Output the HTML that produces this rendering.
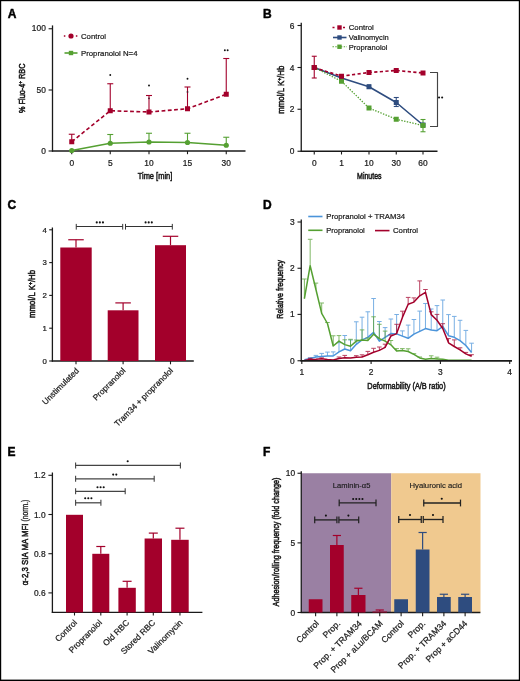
<!DOCTYPE html>
<html><head><meta charset="utf-8"><style>
html,body{margin:0;padding:0;background:#fff;}
svg{display:block;will-change:transform;}
text{font-family:"Liberation Sans", sans-serif;stroke:currentColor;stroke-width:0.22px;}
</style></head><body>
<svg width="520" height="681" viewBox="0 0 520 681">
<rect x="0" y="0" width="520" height="681" fill="#000"/>
<rect x="1.2" y="1.2" width="517.6" height="678.4" fill="#fff"/>
<text x="7.80" y="17.80" font-size="12" text-anchor="start" fill="#000" color="#000" font-weight="bold" style="stroke-width:0.45px">A</text>
<line x1="52.50" y1="25.40" x2="52.50" y2="151.60" stroke="#1a1a1a" stroke-width="1.3" stroke-linecap="butt"/>
<line x1="51.90" y1="151.00" x2="245.50" y2="151.00" stroke="#1a1a1a" stroke-width="1.3" stroke-linecap="butt"/>
<line x1="48.60" y1="28.75" x2="52.50" y2="28.75" stroke="#1a1a1a" stroke-width="1.1" stroke-linecap="butt"/>
<text x="45.80" y="31.47" font-size="8.4" text-anchor="end" fill="#1a1a1a" color="#1a1a1a" font-weight="normal">100</text>
<line x1="48.60" y1="90.00" x2="52.50" y2="90.00" stroke="#1a1a1a" stroke-width="1.1" stroke-linecap="butt"/>
<text x="45.80" y="92.72" font-size="8.4" text-anchor="end" fill="#1a1a1a" color="#1a1a1a" font-weight="normal">50</text>
<line x1="48.60" y1="151.00" x2="52.50" y2="151.00" stroke="#1a1a1a" stroke-width="1.1" stroke-linecap="butt"/>
<text x="45.80" y="153.72" font-size="8.4" text-anchor="end" fill="#1a1a1a" color="#1a1a1a" font-weight="normal">0</text>
<line x1="71.75" y1="151.00" x2="71.75" y2="154.20" stroke="#1a1a1a" stroke-width="1.1" stroke-linecap="butt"/>
<text x="71.75" y="165.72" font-size="8.4" text-anchor="middle" fill="#1a1a1a" color="#1a1a1a" font-weight="normal">0</text>
<line x1="110.25" y1="151.00" x2="110.25" y2="154.20" stroke="#1a1a1a" stroke-width="1.1" stroke-linecap="butt"/>
<text x="110.25" y="165.72" font-size="8.4" text-anchor="middle" fill="#1a1a1a" color="#1a1a1a" font-weight="normal">5</text>
<line x1="149.00" y1="151.00" x2="149.00" y2="154.20" stroke="#1a1a1a" stroke-width="1.1" stroke-linecap="butt"/>
<text x="149.00" y="165.72" font-size="8.4" text-anchor="middle" fill="#1a1a1a" color="#1a1a1a" font-weight="normal">10</text>
<line x1="187.50" y1="151.00" x2="187.50" y2="154.20" stroke="#1a1a1a" stroke-width="1.1" stroke-linecap="butt"/>
<text x="187.50" y="165.72" font-size="8.4" text-anchor="middle" fill="#1a1a1a" color="#1a1a1a" font-weight="normal">15</text>
<line x1="226.25" y1="151.00" x2="226.25" y2="154.20" stroke="#1a1a1a" stroke-width="1.1" stroke-linecap="butt"/>
<text x="226.25" y="165.72" font-size="8.4" text-anchor="middle" fill="#1a1a1a" color="#1a1a1a" font-weight="normal">30</text>
<text x="155.00" y="179.30" font-size="9.2" text-anchor="middle" fill="#1a1a1a" color="#1a1a1a" font-weight="normal" textLength="34.6" lengthAdjust="spacingAndGlyphs" style="stroke-width:0.55px">Time [min]</text>
<text x="25.20" y="88.20" font-size="9.3" text-anchor="middle" fill="#1a1a1a" color="#1a1a1a" font-weight="normal" textLength="49.4" lengthAdjust="spacingAndGlyphs" transform="rotate(-90 25.20 88.20)" style="stroke-width:0.55px">% Fluo-4<tspan font-size="6" dy="-3.2">+</tspan><tspan dy="3.2"> RBC</tspan></text>
<line x1="71.75" y1="141.75" x2="71.75" y2="134.25" stroke="#a3002b" stroke-width="1.1" stroke-linecap="butt"/>
<line x1="68.75" y1="134.25" x2="74.75" y2="134.25" stroke="#a3002b" stroke-width="1.1" stroke-linecap="butt"/>
<line x1="110.25" y1="110.75" x2="110.25" y2="83.75" stroke="#a3002b" stroke-width="1.1" stroke-linecap="butt"/>
<line x1="107.25" y1="83.75" x2="113.25" y2="83.75" stroke="#a3002b" stroke-width="1.1" stroke-linecap="butt"/>
<line x1="149.00" y1="112.00" x2="149.00" y2="95.50" stroke="#a3002b" stroke-width="1.1" stroke-linecap="butt"/>
<line x1="146.00" y1="95.50" x2="152.00" y2="95.50" stroke="#a3002b" stroke-width="1.1" stroke-linecap="butt"/>
<line x1="187.50" y1="108.75" x2="187.50" y2="87.00" stroke="#a3002b" stroke-width="1.1" stroke-linecap="butt"/>
<line x1="184.50" y1="87.00" x2="190.50" y2="87.00" stroke="#a3002b" stroke-width="1.1" stroke-linecap="butt"/>
<line x1="226.25" y1="94.25" x2="226.25" y2="58.50" stroke="#a3002b" stroke-width="1.1" stroke-linecap="butt"/>
<line x1="223.25" y1="58.50" x2="229.25" y2="58.50" stroke="#a3002b" stroke-width="1.1" stroke-linecap="butt"/>
<polyline points="71.75,141.75 110.25,110.75 149.00,112.00 187.50,108.75 226.25,94.25" fill="none" stroke="#a3002b" stroke-width="1.6" stroke-linejoin="round" stroke-dasharray="3.8,2.5"/>
<rect x="69.25" y="139.25" width="5.00" height="5.00" fill="#a3002b"/>
<rect x="107.75" y="108.25" width="5.00" height="5.00" fill="#a3002b"/>
<rect x="146.50" y="109.50" width="5.00" height="5.00" fill="#a3002b"/>
<rect x="185.00" y="106.25" width="5.00" height="5.00" fill="#a3002b"/>
<rect x="223.75" y="91.75" width="5.00" height="5.00" fill="#a3002b"/>
<circle cx="149.00" cy="98.30" r="0.9" fill="#4a2030"/>
<circle cx="187.50" cy="91.90" r="0.9" fill="#4a2030"/>
<line x1="110.25" y1="143.25" x2="110.25" y2="134.50" stroke="#55a032" stroke-width="1.1" stroke-linecap="butt"/>
<line x1="107.25" y1="134.50" x2="113.25" y2="134.50" stroke="#55a032" stroke-width="1.1" stroke-linecap="butt"/>
<line x1="149.00" y1="142.00" x2="149.00" y2="133.25" stroke="#55a032" stroke-width="1.1" stroke-linecap="butt"/>
<line x1="146.00" y1="133.25" x2="152.00" y2="133.25" stroke="#55a032" stroke-width="1.1" stroke-linecap="butt"/>
<line x1="187.50" y1="142.50" x2="187.50" y2="133.25" stroke="#55a032" stroke-width="1.1" stroke-linecap="butt"/>
<line x1="184.50" y1="133.25" x2="190.50" y2="133.25" stroke="#55a032" stroke-width="1.1" stroke-linecap="butt"/>
<line x1="226.25" y1="145.25" x2="226.25" y2="137.25" stroke="#55a032" stroke-width="1.1" stroke-linecap="butt"/>
<line x1="223.25" y1="137.25" x2="229.25" y2="137.25" stroke="#55a032" stroke-width="1.1" stroke-linecap="butt"/>
<polyline points="71.75,150.50 110.25,143.25 149.00,142.00 187.50,142.50 226.25,145.25" fill="none" stroke="#55a032" stroke-width="1.6" stroke-linejoin="round"/>
<circle cx="71.75" cy="150.50" r="2.6" fill="#55a032"/>
<circle cx="110.25" cy="143.25" r="2.6" fill="#55a032"/>
<circle cx="149.00" cy="142.00" r="2.6" fill="#55a032"/>
<circle cx="187.50" cy="142.50" r="2.6" fill="#55a032"/>
<circle cx="226.25" cy="145.25" r="2.6" fill="#55a032"/>
<circle cx="110.25" cy="75.00" r="0.95" fill="#111"/>
<circle cx="149.00" cy="85.50" r="0.95" fill="#111"/>
<circle cx="187.50" cy="78.75" r="0.95" fill="#111"/>
<circle cx="224.85" cy="50.20" r="0.95" fill="#111"/>
<circle cx="227.65" cy="50.20" r="0.95" fill="#111"/>
<line x1="63.85" y1="36.00" x2="77.35" y2="36.00" stroke="#a3002b" stroke-width="1.6" stroke-linecap="butt" stroke-dasharray="1.5,10.5"/>
<circle cx="71.00" cy="36.00" r="2.6" fill="#a3002b"/>
<text x="81.00" y="38.92" font-size="8.1" text-anchor="start" fill="#1a1a1a" color="#1a1a1a" font-weight="normal" textLength="25" lengthAdjust="spacingAndGlyphs">Control</text>
<line x1="64.50" y1="53.00" x2="77.50" y2="53.00" stroke="#55a032" stroke-width="1.6" stroke-linecap="butt"/>
<rect x="68.80" y="50.80" width="4.40" height="4.40" fill="#55a032"/>
<text x="81.00" y="55.92" font-size="8.1" text-anchor="start" fill="#1a1a1a" color="#1a1a1a" font-weight="normal" textLength="56.5" lengthAdjust="spacingAndGlyphs">Propranolol N=4</text>
<text x="263.00" y="18.00" font-size="12" text-anchor="start" fill="#000" color="#000" font-weight="bold" style="stroke-width:0.45px">B</text>
<line x1="301.25" y1="22.70" x2="301.25" y2="151.85" stroke="#1a1a1a" stroke-width="1.3" stroke-linecap="butt"/>
<line x1="300.65" y1="151.25" x2="437.50" y2="151.25" stroke="#1a1a1a" stroke-width="1.3" stroke-linecap="butt"/>
<line x1="297.50" y1="25.50" x2="301.25" y2="25.50" stroke="#1a1a1a" stroke-width="1.1" stroke-linecap="butt"/>
<text x="294.30" y="28.52" font-size="8.4" text-anchor="end" fill="#1a1a1a" color="#1a1a1a" font-weight="normal">6</text>
<line x1="297.50" y1="67.50" x2="301.25" y2="67.50" stroke="#1a1a1a" stroke-width="1.1" stroke-linecap="butt"/>
<text x="294.30" y="70.52" font-size="8.4" text-anchor="end" fill="#1a1a1a" color="#1a1a1a" font-weight="normal">4</text>
<line x1="297.50" y1="109.25" x2="301.25" y2="109.25" stroke="#1a1a1a" stroke-width="1.1" stroke-linecap="butt"/>
<text x="294.30" y="112.27" font-size="8.4" text-anchor="end" fill="#1a1a1a" color="#1a1a1a" font-weight="normal">2</text>
<line x1="297.50" y1="151.25" x2="301.25" y2="151.25" stroke="#1a1a1a" stroke-width="1.1" stroke-linecap="butt"/>
<text x="294.30" y="154.27" font-size="8.4" text-anchor="end" fill="#1a1a1a" color="#1a1a1a" font-weight="normal">0</text>
<line x1="314.25" y1="151.25" x2="314.25" y2="154.50" stroke="#1a1a1a" stroke-width="1.1" stroke-linecap="butt"/>
<text x="314.25" y="165.52" font-size="8.4" text-anchor="middle" fill="#1a1a1a" color="#1a1a1a" font-weight="normal">0</text>
<line x1="341.50" y1="151.25" x2="341.50" y2="154.50" stroke="#1a1a1a" stroke-width="1.1" stroke-linecap="butt"/>
<text x="341.50" y="165.52" font-size="8.4" text-anchor="middle" fill="#1a1a1a" color="#1a1a1a" font-weight="normal">1</text>
<line x1="369.00" y1="151.25" x2="369.00" y2="154.50" stroke="#1a1a1a" stroke-width="1.1" stroke-linecap="butt"/>
<text x="369.00" y="165.52" font-size="8.4" text-anchor="middle" fill="#1a1a1a" color="#1a1a1a" font-weight="normal">10</text>
<line x1="396.25" y1="151.25" x2="396.25" y2="154.50" stroke="#1a1a1a" stroke-width="1.1" stroke-linecap="butt"/>
<text x="396.25" y="165.52" font-size="8.4" text-anchor="middle" fill="#1a1a1a" color="#1a1a1a" font-weight="normal">30</text>
<line x1="423.00" y1="151.25" x2="423.00" y2="154.50" stroke="#1a1a1a" stroke-width="1.1" stroke-linecap="butt"/>
<text x="423.00" y="165.52" font-size="8.4" text-anchor="middle" fill="#1a1a1a" color="#1a1a1a" font-weight="normal">60</text>
<text x="369.30" y="179.20" font-size="9.2" text-anchor="middle" fill="#1a1a1a" color="#1a1a1a" font-weight="normal" textLength="24.4" lengthAdjust="spacingAndGlyphs" style="stroke-width:0.55px">Minutes</text>
<text x="283.90" y="89.70" font-size="9.4" text-anchor="middle" fill="#1a1a1a" color="#1a1a1a" font-weight="normal" textLength="48" lengthAdjust="spacingAndGlyphs" transform="rotate(-90 283.90 89.70)" style="stroke-width:0.55px">mmol/L K<tspan font-size="6" dy="-3">+</tspan><tspan dy="3">/Hb</tspan></text>
<line x1="314.25" y1="67.50" x2="314.25" y2="56.25" stroke="#a3002b" stroke-width="1.1" stroke-linecap="butt"/>
<line x1="311.75" y1="56.25" x2="316.75" y2="56.25" stroke="#a3002b" stroke-width="1.1" stroke-linecap="butt"/>
<line x1="314.25" y1="67.50" x2="314.25" y2="78.00" stroke="#a3002b" stroke-width="1.1" stroke-linecap="butt"/>
<line x1="311.75" y1="78.00" x2="316.75" y2="78.00" stroke="#a3002b" stroke-width="1.1" stroke-linecap="butt"/>
<line x1="396.25" y1="102.50" x2="396.25" y2="97.50" stroke="#2e4c7f" stroke-width="1.1" stroke-linecap="butt"/>
<line x1="393.75" y1="97.50" x2="398.75" y2="97.50" stroke="#2e4c7f" stroke-width="1.1" stroke-linecap="butt"/>
<line x1="396.25" y1="102.50" x2="396.25" y2="106.50" stroke="#2e4c7f" stroke-width="1.1" stroke-linecap="butt"/>
<line x1="393.75" y1="106.50" x2="398.75" y2="106.50" stroke="#2e4c7f" stroke-width="1.1" stroke-linecap="butt"/>
<line x1="369.00" y1="86.75" x2="369.00" y2="85.00" stroke="#2e4c7f" stroke-width="1.0" stroke-linecap="butt"/>
<line x1="367.00" y1="85.00" x2="371.00" y2="85.00" stroke="#2e4c7f" stroke-width="1.0" stroke-linecap="butt"/>
<line x1="369.00" y1="86.75" x2="369.00" y2="88.50" stroke="#2e4c7f" stroke-width="1.0" stroke-linecap="butt"/>
<line x1="367.00" y1="88.50" x2="371.00" y2="88.50" stroke="#2e4c7f" stroke-width="1.0" stroke-linecap="butt"/>
<line x1="423.00" y1="125.50" x2="423.00" y2="119.50" stroke="#55a032" stroke-width="1.1" stroke-linecap="butt"/>
<line x1="420.50" y1="119.50" x2="425.50" y2="119.50" stroke="#55a032" stroke-width="1.1" stroke-linecap="butt"/>
<line x1="423.00" y1="125.50" x2="423.00" y2="131.75" stroke="#55a032" stroke-width="1.1" stroke-linecap="butt"/>
<line x1="420.50" y1="131.75" x2="425.50" y2="131.75" stroke="#55a032" stroke-width="1.1" stroke-linecap="butt"/>
<polyline points="314.25,67.50 341.50,78.00 369.00,86.75 396.25,102.50 423.00,125.00" fill="none" stroke="#2e4c7f" stroke-width="1.6" stroke-linejoin="round"/>
<rect x="311.75" y="65.00" width="5.00" height="5.00" fill="#2e4c7f"/>
<rect x="339.00" y="75.50" width="5.00" height="5.00" fill="#2e4c7f"/>
<rect x="366.50" y="84.25" width="5.00" height="5.00" fill="#2e4c7f"/>
<rect x="393.75" y="100.00" width="5.00" height="5.00" fill="#2e4c7f"/>
<rect x="420.50" y="122.50" width="5.00" height="5.00" fill="#2e4c7f"/>
<polyline points="314.25,67.50 341.50,81.25 369.00,108.00 396.25,119.25 423.00,125.50" fill="none" stroke="#55a032" stroke-width="1.3" stroke-linejoin="round" stroke-dasharray="1.4,1.4"/>
<rect x="311.75" y="65.00" width="5.00" height="5.00" fill="#55a032"/>
<rect x="339.00" y="78.75" width="5.00" height="5.00" fill="#55a032"/>
<rect x="366.50" y="105.50" width="5.00" height="5.00" fill="#55a032"/>
<rect x="393.75" y="116.75" width="5.00" height="5.00" fill="#55a032"/>
<rect x="420.50" y="123.00" width="5.00" height="5.00" fill="#55a032"/>
<polyline points="314.25,67.50 341.50,76.25 369.00,72.50 396.25,70.50 423.00,73.00" fill="none" stroke="#a3002b" stroke-width="1.6" stroke-linejoin="round" stroke-dasharray="3.2,2.4"/>
<rect x="311.75" y="65.00" width="5.00" height="5.00" fill="#a3002b"/>
<rect x="339.00" y="73.75" width="5.00" height="5.00" fill="#a3002b"/>
<rect x="366.50" y="70.00" width="5.00" height="5.00" fill="#a3002b"/>
<rect x="393.75" y="68.00" width="5.00" height="5.00" fill="#a3002b"/>
<rect x="420.50" y="70.50" width="5.00" height="5.00" fill="#a3002b"/>
<line x1="332.50" y1="27.50" x2="347.00" y2="27.50" stroke="#a3002b" stroke-width="1.6" stroke-linecap="butt" stroke-dasharray="2,8.5"/>
<rect x="337.30" y="25.30" width="4.40" height="4.40" fill="#a3002b"/>
<text x="348.75" y="30.42" font-size="8.1" text-anchor="start" fill="#1a1a1a" color="#1a1a1a" font-weight="normal" textLength="25" lengthAdjust="spacingAndGlyphs">Control</text>
<line x1="333.00" y1="37.50" x2="346.50" y2="37.50" stroke="#2e4c7f" stroke-width="1.6" stroke-linecap="butt"/>
<rect x="337.30" y="35.30" width="4.40" height="4.40" fill="#2e4c7f"/>
<text x="348.75" y="40.42" font-size="8.1" text-anchor="start" fill="#1a1a1a" color="#1a1a1a" font-weight="normal" textLength="40" lengthAdjust="spacingAndGlyphs">Valinomycin</text>
<line x1="332.50" y1="46.75" x2="347.00" y2="46.75" stroke="#55a032" stroke-width="1.2" stroke-linecap="butt" stroke-dasharray="1.4,1.4"/>
<rect x="337.30" y="44.55" width="4.40" height="4.40" fill="#55a032"/>
<text x="348.75" y="49.67" font-size="8.1" text-anchor="start" fill="#1a1a1a" color="#1a1a1a" font-weight="normal" textLength="38.75" lengthAdjust="spacingAndGlyphs">Propranolol</text>
<polyline points="430.00,72.50 437.50,72.50 437.50,126.50 430.00,126.50" fill="none" stroke="#444" stroke-width="1.15" stroke-linejoin="round"/>
<circle cx="439.05" cy="97.50" r="1.05" fill="#111"/>
<circle cx="442.15" cy="97.50" r="1.05" fill="#111"/>
<text x="7.50" y="209.25" font-size="12" text-anchor="start" fill="#000" color="#000" font-weight="bold" style="stroke-width:0.45px">C</text>
<line x1="52.40" y1="227.50" x2="52.40" y2="361.60" stroke="#1a1a1a" stroke-width="1.3" stroke-linecap="butt"/>
<line x1="51.80" y1="361.00" x2="193.80" y2="361.00" stroke="#1a1a1a" stroke-width="1.3" stroke-linecap="butt"/>
<line x1="49.20" y1="361.00" x2="52.40" y2="361.00" stroke="#1a1a1a" stroke-width="1.1" stroke-linecap="butt"/>
<text x="46.90" y="363.81" font-size="7.8" text-anchor="end" fill="#1a1a1a" color="#1a1a1a" font-weight="normal">0</text>
<line x1="49.20" y1="328.20" x2="52.40" y2="328.20" stroke="#1a1a1a" stroke-width="1.1" stroke-linecap="butt"/>
<text x="46.90" y="331.01" font-size="7.8" text-anchor="end" fill="#1a1a1a" color="#1a1a1a" font-weight="normal">1</text>
<line x1="49.20" y1="295.40" x2="52.40" y2="295.40" stroke="#1a1a1a" stroke-width="1.1" stroke-linecap="butt"/>
<text x="46.90" y="298.21" font-size="7.8" text-anchor="end" fill="#1a1a1a" color="#1a1a1a" font-weight="normal">2</text>
<line x1="49.20" y1="262.60" x2="52.40" y2="262.60" stroke="#1a1a1a" stroke-width="1.1" stroke-linecap="butt"/>
<text x="46.90" y="265.41" font-size="7.8" text-anchor="end" fill="#1a1a1a" color="#1a1a1a" font-weight="normal">3</text>
<line x1="49.20" y1="229.80" x2="52.40" y2="229.80" stroke="#1a1a1a" stroke-width="1.1" stroke-linecap="butt"/>
<text x="46.90" y="232.61" font-size="7.8" text-anchor="end" fill="#1a1a1a" color="#1a1a1a" font-weight="normal">4</text>
<text x="35.20" y="293.90" font-size="9.1" text-anchor="middle" fill="#1a1a1a" color="#1a1a1a" font-weight="normal" textLength="48.2" lengthAdjust="spacingAndGlyphs" transform="rotate(-90 35.20 293.90)" style="stroke-width:0.55px">mmol/L K<tspan font-size="5.8" dy="-2.9">+</tspan><tspan dy="2.9">/Hb</tspan></text>
<line x1="76.00" y1="247.50" x2="76.00" y2="239.75" stroke="#a3002b" stroke-width="1.2" stroke-linecap="butt"/>
<line x1="68.25" y1="239.75" x2="83.75" y2="239.75" stroke="#a3002b" stroke-width="1.2" stroke-linecap="butt"/>
<rect x="60.30" y="247.50" width="31.40" height="113.50" fill="#a3002b"/>
<line x1="123.10" y1="310.30" x2="123.10" y2="302.90" stroke="#a3002b" stroke-width="1.2" stroke-linecap="butt"/>
<line x1="115.35" y1="302.90" x2="130.85" y2="302.90" stroke="#a3002b" stroke-width="1.2" stroke-linecap="butt"/>
<rect x="107.70" y="310.30" width="30.80" height="50.70" fill="#a3002b"/>
<line x1="170.50" y1="245.20" x2="170.50" y2="236.30" stroke="#a3002b" stroke-width="1.2" stroke-linecap="butt"/>
<line x1="162.75" y1="236.30" x2="178.25" y2="236.30" stroke="#a3002b" stroke-width="1.2" stroke-linecap="butt"/>
<rect x="155.00" y="245.20" width="31.00" height="115.80" fill="#a3002b"/>
<line x1="76.00" y1="361.00" x2="76.00" y2="364.30" stroke="#1a1a1a" stroke-width="1.1" stroke-linecap="butt"/>
<line x1="123.10" y1="361.00" x2="123.10" y2="364.30" stroke="#1a1a1a" stroke-width="1.1" stroke-linecap="butt"/>
<line x1="170.50" y1="361.00" x2="170.50" y2="364.30" stroke="#1a1a1a" stroke-width="1.1" stroke-linecap="butt"/>
<line x1="76.25" y1="226.50" x2="122.70" y2="226.50" stroke="#333" stroke-width="1.1" stroke-linecap="butt"/>
<line x1="125.50" y1="226.50" x2="172.30" y2="226.50" stroke="#333" stroke-width="1.1" stroke-linecap="butt"/>
<line x1="76.25" y1="223.90" x2="76.25" y2="229.60" stroke="#333" stroke-width="1.0" stroke-linecap="butt"/>
<line x1="122.70" y1="223.90" x2="122.70" y2="229.60" stroke="#333" stroke-width="1.0" stroke-linecap="butt"/>
<line x1="125.50" y1="223.90" x2="125.50" y2="229.60" stroke="#333" stroke-width="1.0" stroke-linecap="butt"/>
<line x1="172.30" y1="223.90" x2="172.30" y2="229.60" stroke="#333" stroke-width="1.0" stroke-linecap="butt"/>
<circle cx="96.75" cy="222.40" r="1.05" fill="#111"/>
<circle cx="99.85" cy="222.40" r="1.05" fill="#111"/>
<circle cx="102.95" cy="222.40" r="1.05" fill="#111"/>
<circle cx="145.60" cy="222.40" r="1.05" fill="#111"/>
<circle cx="148.70" cy="222.40" r="1.05" fill="#111"/>
<circle cx="151.80" cy="222.40" r="1.05" fill="#111"/>
<text x="79.50" y="371.20" font-size="8.25" text-anchor="end" fill="#1a1a1a" color="#1a1a1a" font-weight="normal" transform="rotate(-45 79.50 371.20)">Unstimulated</text>
<text x="126.00" y="371.20" font-size="8.25" text-anchor="end" fill="#1a1a1a" color="#1a1a1a" font-weight="normal" transform="rotate(-45 126.00 371.20)">Propranolol</text>
<text x="173.50" y="371.20" font-size="8.25" text-anchor="end" fill="#1a1a1a" color="#1a1a1a" font-weight="normal" transform="rotate(-45 173.50 371.20)">Tram34 + propranolol</text>
<text x="263.00" y="208.75" font-size="12" text-anchor="start" fill="#000" color="#000" font-weight="bold" style="stroke-width:0.45px">D</text>
<line x1="301.25" y1="219.50" x2="301.25" y2="361.35" stroke="#1a1a1a" stroke-width="1.3" stroke-linecap="butt"/>
<line x1="300.65" y1="360.75" x2="512.00" y2="360.75" stroke="#1a1a1a" stroke-width="1.3" stroke-linecap="butt"/>
<line x1="297.50" y1="222.00" x2="301.25" y2="222.00" stroke="#1a1a1a" stroke-width="1.1" stroke-linecap="butt"/>
<text x="294.60" y="225.02" font-size="8.4" text-anchor="end" fill="#1a1a1a" color="#1a1a1a" font-weight="normal">3</text>
<line x1="297.50" y1="268.25" x2="301.25" y2="268.25" stroke="#1a1a1a" stroke-width="1.1" stroke-linecap="butt"/>
<text x="294.60" y="271.27" font-size="8.4" text-anchor="end" fill="#1a1a1a" color="#1a1a1a" font-weight="normal">2</text>
<line x1="297.50" y1="314.40" x2="301.25" y2="314.40" stroke="#1a1a1a" stroke-width="1.1" stroke-linecap="butt"/>
<text x="294.60" y="317.42" font-size="8.4" text-anchor="end" fill="#1a1a1a" color="#1a1a1a" font-weight="normal">1</text>
<line x1="297.50" y1="360.75" x2="301.25" y2="360.75" stroke="#1a1a1a" stroke-width="1.1" stroke-linecap="butt"/>
<text x="294.60" y="363.77" font-size="8.4" text-anchor="end" fill="#1a1a1a" color="#1a1a1a" font-weight="normal">0</text>
<line x1="301.80" y1="360.75" x2="301.80" y2="364.00" stroke="#1a1a1a" stroke-width="1.1" stroke-linecap="butt"/>
<text x="301.80" y="374.92" font-size="8.4" text-anchor="middle" fill="#1a1a1a" color="#1a1a1a" font-weight="normal">1</text>
<line x1="371.10" y1="360.75" x2="371.10" y2="364.00" stroke="#1a1a1a" stroke-width="1.1" stroke-linecap="butt"/>
<text x="371.10" y="374.92" font-size="8.4" text-anchor="middle" fill="#1a1a1a" color="#1a1a1a" font-weight="normal">2</text>
<line x1="440.40" y1="360.75" x2="440.40" y2="364.00" stroke="#1a1a1a" stroke-width="1.1" stroke-linecap="butt"/>
<text x="440.40" y="374.92" font-size="8.4" text-anchor="middle" fill="#1a1a1a" color="#1a1a1a" font-weight="normal">3</text>
<line x1="509.70" y1="360.75" x2="509.70" y2="364.00" stroke="#1a1a1a" stroke-width="1.1" stroke-linecap="butt"/>
<text x="509.70" y="374.92" font-size="8.4" text-anchor="middle" fill="#1a1a1a" color="#1a1a1a" font-weight="normal">4</text>
<text x="406.50" y="389.20" font-size="9.6" text-anchor="middle" fill="#1a1a1a" color="#1a1a1a" font-weight="normal" textLength="78.3" lengthAdjust="spacingAndGlyphs" style="stroke-width:0.55px">Deformability (A/B ratio)</text>
<text x="283.30" y="289.30" font-size="9.9" text-anchor="middle" fill="#1a1a1a" color="#1a1a1a" font-weight="normal" textLength="58.8" lengthAdjust="spacingAndGlyphs" transform="rotate(-90 283.30 289.30)" style="stroke-width:0.55px">Relative frequency</text>
<line x1="308.25" y1="216.50" x2="322.50" y2="216.50" stroke="#4b94da" stroke-width="1.6" stroke-linecap="butt"/>
<text x="326.25" y="219.27" font-size="8.1" text-anchor="start" fill="#1a1a1a" color="#1a1a1a" font-weight="normal" textLength="78.75" lengthAdjust="spacingAndGlyphs">Propranolol + TRAM34</text>
<line x1="308.25" y1="230.30" x2="322.50" y2="230.30" stroke="#55a032" stroke-width="1.6" stroke-linecap="butt"/>
<text x="326.25" y="233.02" font-size="8.1" text-anchor="start" fill="#1a1a1a" color="#1a1a1a" font-weight="normal" textLength="38.5" lengthAdjust="spacingAndGlyphs">Propranolol</text>
<line x1="375.00" y1="230.60" x2="389.50" y2="230.60" stroke="#a3002b" stroke-width="1.6" stroke-linecap="butt"/>
<text x="393.00" y="233.32" font-size="8.1" text-anchor="start" fill="#1a1a1a" color="#1a1a1a" font-weight="normal" textLength="25" lengthAdjust="spacingAndGlyphs">Control</text>
<g opacity="0.75">
<line x1="310.16" y1="358.60" x2="310.16" y2="357.70" stroke="#4b94da" stroke-width="1.0" stroke-linecap="butt"/>
<line x1="307.86" y1="357.70" x2="312.46" y2="357.70" stroke="#4b94da" stroke-width="1.0" stroke-linecap="butt"/>
</g>
<g opacity="0.75">
<line x1="315.93" y1="357.10" x2="315.93" y2="355.40" stroke="#4b94da" stroke-width="1.0" stroke-linecap="butt"/>
<line x1="313.63" y1="355.40" x2="318.23" y2="355.40" stroke="#4b94da" stroke-width="1.0" stroke-linecap="butt"/>
</g>
<g opacity="0.75">
<line x1="321.69" y1="356.50" x2="321.69" y2="353.40" stroke="#4b94da" stroke-width="1.0" stroke-linecap="butt"/>
<line x1="319.39" y1="353.40" x2="324.00" y2="353.40" stroke="#4b94da" stroke-width="1.0" stroke-linecap="butt"/>
</g>
<g opacity="0.75">
<line x1="327.46" y1="356.00" x2="327.46" y2="352.10" stroke="#4b94da" stroke-width="1.0" stroke-linecap="butt"/>
<line x1="325.16" y1="352.10" x2="329.76" y2="352.10" stroke="#4b94da" stroke-width="1.0" stroke-linecap="butt"/>
</g>
<g opacity="0.75">
<line x1="333.22" y1="356.00" x2="333.22" y2="351.90" stroke="#4b94da" stroke-width="1.0" stroke-linecap="butt"/>
<line x1="330.92" y1="351.90" x2="335.52" y2="351.90" stroke="#4b94da" stroke-width="1.0" stroke-linecap="butt"/>
</g>
<g opacity="0.75">
<line x1="338.99" y1="351.90" x2="338.99" y2="342.70" stroke="#4b94da" stroke-width="1.0" stroke-linecap="butt"/>
<line x1="336.69" y1="342.70" x2="341.29" y2="342.70" stroke="#4b94da" stroke-width="1.0" stroke-linecap="butt"/>
</g>
<g opacity="0.75">
<line x1="344.75" y1="349.00" x2="344.75" y2="335.50" stroke="#4b94da" stroke-width="1.0" stroke-linecap="butt"/>
<line x1="342.45" y1="335.50" x2="347.06" y2="335.50" stroke="#4b94da" stroke-width="1.0" stroke-linecap="butt"/>
</g>
<g opacity="0.75">
<line x1="350.52" y1="350.80" x2="350.52" y2="340.00" stroke="#4b94da" stroke-width="1.0" stroke-linecap="butt"/>
<line x1="348.22" y1="340.00" x2="352.82" y2="340.00" stroke="#4b94da" stroke-width="1.0" stroke-linecap="butt"/>
</g>
<g opacity="0.75">
<line x1="356.28" y1="344.30" x2="356.28" y2="321.80" stroke="#4b94da" stroke-width="1.0" stroke-linecap="butt"/>
<line x1="353.98" y1="321.80" x2="358.58" y2="321.80" stroke="#4b94da" stroke-width="1.0" stroke-linecap="butt"/>
</g>
<g opacity="0.75">
<line x1="362.05" y1="339.90" x2="362.05" y2="317.20" stroke="#4b94da" stroke-width="1.0" stroke-linecap="butt"/>
<line x1="359.75" y1="317.20" x2="364.35" y2="317.20" stroke="#4b94da" stroke-width="1.0" stroke-linecap="butt"/>
</g>
<g opacity="0.75">
<line x1="367.81" y1="337.40" x2="367.81" y2="311.80" stroke="#4b94da" stroke-width="1.0" stroke-linecap="butt"/>
<line x1="365.51" y1="311.80" x2="370.12" y2="311.80" stroke="#4b94da" stroke-width="1.0" stroke-linecap="butt"/>
</g>
<g opacity="0.75">
<line x1="373.58" y1="332.40" x2="373.58" y2="298.50" stroke="#4b94da" stroke-width="1.0" stroke-linecap="butt"/>
<line x1="371.28" y1="298.50" x2="375.88" y2="298.50" stroke="#4b94da" stroke-width="1.0" stroke-linecap="butt"/>
</g>
<g opacity="0.75">
<line x1="379.34" y1="341.10" x2="379.34" y2="321.50" stroke="#4b94da" stroke-width="1.0" stroke-linecap="butt"/>
<line x1="377.04" y1="321.50" x2="381.64" y2="321.50" stroke="#4b94da" stroke-width="1.0" stroke-linecap="butt"/>
</g>
<g opacity="0.75">
<line x1="385.11" y1="337.40" x2="385.11" y2="327.60" stroke="#4b94da" stroke-width="1.0" stroke-linecap="butt"/>
<line x1="382.81" y1="327.60" x2="387.41" y2="327.60" stroke="#4b94da" stroke-width="1.0" stroke-linecap="butt"/>
</g>
<g opacity="0.75">
<line x1="390.88" y1="333.60" x2="390.88" y2="319.00" stroke="#4b94da" stroke-width="1.0" stroke-linecap="butt"/>
<line x1="388.57" y1="319.00" x2="393.18" y2="319.00" stroke="#4b94da" stroke-width="1.0" stroke-linecap="butt"/>
</g>
<g opacity="0.75">
<line x1="396.64" y1="333.90" x2="396.64" y2="314.50" stroke="#4b94da" stroke-width="1.0" stroke-linecap="butt"/>
<line x1="394.34" y1="314.50" x2="398.94" y2="314.50" stroke="#4b94da" stroke-width="1.0" stroke-linecap="butt"/>
</g>
<g opacity="0.75">
<line x1="402.40" y1="336.10" x2="402.40" y2="330.90" stroke="#4b94da" stroke-width="1.0" stroke-linecap="butt"/>
<line x1="400.10" y1="330.90" x2="404.70" y2="330.90" stroke="#4b94da" stroke-width="1.0" stroke-linecap="butt"/>
</g>
<g opacity="0.75">
<line x1="408.17" y1="338.30" x2="408.17" y2="325.10" stroke="#4b94da" stroke-width="1.0" stroke-linecap="butt"/>
<line x1="405.87" y1="325.10" x2="410.47" y2="325.10" stroke="#4b94da" stroke-width="1.0" stroke-linecap="butt"/>
</g>
<g opacity="0.75">
<line x1="413.93" y1="334.20" x2="413.93" y2="319.50" stroke="#4b94da" stroke-width="1.0" stroke-linecap="butt"/>
<line x1="411.63" y1="319.50" x2="416.23" y2="319.50" stroke="#4b94da" stroke-width="1.0" stroke-linecap="butt"/>
</g>
<g opacity="0.75">
<line x1="419.70" y1="331.40" x2="419.70" y2="311.10" stroke="#4b94da" stroke-width="1.0" stroke-linecap="butt"/>
<line x1="417.40" y1="311.10" x2="422.00" y2="311.10" stroke="#4b94da" stroke-width="1.0" stroke-linecap="butt"/>
</g>
<g opacity="0.75">
<line x1="425.46" y1="328.60" x2="425.46" y2="303.50" stroke="#4b94da" stroke-width="1.0" stroke-linecap="butt"/>
<line x1="423.16" y1="303.50" x2="427.76" y2="303.50" stroke="#4b94da" stroke-width="1.0" stroke-linecap="butt"/>
</g>
<g opacity="0.75">
<line x1="431.23" y1="330.00" x2="431.23" y2="309.00" stroke="#4b94da" stroke-width="1.0" stroke-linecap="butt"/>
<line x1="428.93" y1="309.00" x2="433.53" y2="309.00" stroke="#4b94da" stroke-width="1.0" stroke-linecap="butt"/>
</g>
<g opacity="0.75">
<line x1="437.00" y1="330.70" x2="437.00" y2="305.60" stroke="#4b94da" stroke-width="1.0" stroke-linecap="butt"/>
<line x1="434.69" y1="305.60" x2="439.30" y2="305.60" stroke="#4b94da" stroke-width="1.0" stroke-linecap="butt"/>
</g>
<g opacity="0.75">
<line x1="442.76" y1="326.50" x2="442.76" y2="300.00" stroke="#4b94da" stroke-width="1.0" stroke-linecap="butt"/>
<line x1="440.46" y1="300.00" x2="445.06" y2="300.00" stroke="#4b94da" stroke-width="1.0" stroke-linecap="butt"/>
</g>
<g opacity="0.75">
<line x1="448.52" y1="335.70" x2="448.52" y2="314.60" stroke="#4b94da" stroke-width="1.0" stroke-linecap="butt"/>
<line x1="446.22" y1="314.60" x2="450.82" y2="314.60" stroke="#4b94da" stroke-width="1.0" stroke-linecap="butt"/>
</g>
<g opacity="0.75">
<line x1="454.29" y1="337.30" x2="454.29" y2="316.40" stroke="#4b94da" stroke-width="1.0" stroke-linecap="butt"/>
<line x1="451.99" y1="316.40" x2="456.59" y2="316.40" stroke="#4b94da" stroke-width="1.0" stroke-linecap="butt"/>
</g>
<g opacity="0.75">
<line x1="460.05" y1="340.60" x2="460.05" y2="320.30" stroke="#4b94da" stroke-width="1.0" stroke-linecap="butt"/>
<line x1="457.75" y1="320.30" x2="462.35" y2="320.30" stroke="#4b94da" stroke-width="1.0" stroke-linecap="butt"/>
</g>
<g opacity="0.75">
<line x1="465.82" y1="345.50" x2="465.82" y2="330.40" stroke="#4b94da" stroke-width="1.0" stroke-linecap="butt"/>
<line x1="463.52" y1="330.40" x2="468.12" y2="330.40" stroke="#4b94da" stroke-width="1.0" stroke-linecap="butt"/>
</g>
<g opacity="0.75">
<line x1="471.58" y1="352.40" x2="471.58" y2="343.20" stroke="#4b94da" stroke-width="1.0" stroke-linecap="butt"/>
<line x1="469.28" y1="343.20" x2="473.88" y2="343.20" stroke="#4b94da" stroke-width="1.0" stroke-linecap="butt"/>
</g>
<polyline points="304.40,359.80 310.16,358.60 315.93,357.10 321.69,356.50 327.46,356.00 333.22,356.00 338.99,351.90 344.75,349.00 350.52,350.80 356.28,344.30 362.05,339.90 367.81,337.40 373.58,332.40 379.34,341.10 385.11,337.40 390.88,333.60 396.64,333.90 402.40,336.10 408.17,338.30 413.93,334.20 419.70,331.40 425.46,328.60 431.23,330.00 437.00,330.70 442.76,326.50 448.52,335.70 454.29,337.30 460.05,340.60 465.82,345.50 471.58,352.40" fill="none" stroke="#4b94da" stroke-width="1.5" stroke-linejoin="round"/>
<g opacity="0.75">
<line x1="304.40" y1="298.70" x2="304.40" y2="279.00" stroke="#55a032" stroke-width="1.0" stroke-linecap="butt"/>
<line x1="302.10" y1="279.00" x2="306.70" y2="279.00" stroke="#55a032" stroke-width="1.0" stroke-linecap="butt"/>
</g>
<g opacity="0.75">
<line x1="310.16" y1="265.70" x2="310.16" y2="239.30" stroke="#55a032" stroke-width="1.0" stroke-linecap="butt"/>
<line x1="307.86" y1="239.30" x2="312.46" y2="239.30" stroke="#55a032" stroke-width="1.0" stroke-linecap="butt"/>
</g>
<g opacity="0.75">
<line x1="315.93" y1="289.50" x2="315.93" y2="283.10" stroke="#55a032" stroke-width="1.0" stroke-linecap="butt"/>
<line x1="313.63" y1="283.10" x2="318.23" y2="283.10" stroke="#55a032" stroke-width="1.0" stroke-linecap="butt"/>
</g>
<g opacity="0.75">
<line x1="321.69" y1="313.40" x2="321.69" y2="303.00" stroke="#55a032" stroke-width="1.0" stroke-linecap="butt"/>
<line x1="319.39" y1="303.00" x2="324.00" y2="303.00" stroke="#55a032" stroke-width="1.0" stroke-linecap="butt"/>
</g>
<g opacity="0.75">
<line x1="327.46" y1="323.50" x2="327.46" y2="322.50" stroke="#55a032" stroke-width="1.0" stroke-linecap="butt"/>
<line x1="325.16" y1="322.50" x2="329.76" y2="322.50" stroke="#55a032" stroke-width="1.0" stroke-linecap="butt"/>
</g>
<g opacity="0.75">
<line x1="333.22" y1="346.00" x2="333.22" y2="335.80" stroke="#55a032" stroke-width="1.0" stroke-linecap="butt"/>
<line x1="330.92" y1="335.80" x2="335.52" y2="335.80" stroke="#55a032" stroke-width="1.0" stroke-linecap="butt"/>
</g>
<g opacity="0.75">
<line x1="338.99" y1="341.10" x2="338.99" y2="335.60" stroke="#55a032" stroke-width="1.0" stroke-linecap="butt"/>
<line x1="336.69" y1="335.60" x2="341.29" y2="335.60" stroke="#55a032" stroke-width="1.0" stroke-linecap="butt"/>
</g>
<g opacity="0.75">
<line x1="344.75" y1="344.60" x2="344.75" y2="339.80" stroke="#55a032" stroke-width="1.0" stroke-linecap="butt"/>
<line x1="342.45" y1="339.80" x2="347.06" y2="339.80" stroke="#55a032" stroke-width="1.0" stroke-linecap="butt"/>
</g>
<g opacity="0.75">
<line x1="350.52" y1="346.30" x2="350.52" y2="339.30" stroke="#55a032" stroke-width="1.0" stroke-linecap="butt"/>
<line x1="348.22" y1="339.30" x2="352.82" y2="339.30" stroke="#55a032" stroke-width="1.0" stroke-linecap="butt"/>
</g>
<g opacity="0.75">
<line x1="356.28" y1="341.10" x2="356.28" y2="340.00" stroke="#55a032" stroke-width="1.0" stroke-linecap="butt"/>
<line x1="353.98" y1="340.00" x2="358.58" y2="340.00" stroke="#55a032" stroke-width="1.0" stroke-linecap="butt"/>
</g>
<g opacity="0.75">
<line x1="362.05" y1="339.90" x2="362.05" y2="329.90" stroke="#55a032" stroke-width="1.0" stroke-linecap="butt"/>
<line x1="359.75" y1="329.90" x2="364.35" y2="329.90" stroke="#55a032" stroke-width="1.0" stroke-linecap="butt"/>
</g>
<g opacity="0.75">
<line x1="367.81" y1="340.50" x2="367.81" y2="338.00" stroke="#55a032" stroke-width="1.0" stroke-linecap="butt"/>
<line x1="365.51" y1="338.00" x2="370.12" y2="338.00" stroke="#55a032" stroke-width="1.0" stroke-linecap="butt"/>
</g>
<g opacity="0.75">
<line x1="373.58" y1="334.20" x2="373.58" y2="316.80" stroke="#55a032" stroke-width="1.0" stroke-linecap="butt"/>
<line x1="371.28" y1="316.80" x2="375.88" y2="316.80" stroke="#55a032" stroke-width="1.0" stroke-linecap="butt"/>
</g>
<g opacity="0.75">
<line x1="379.34" y1="338.60" x2="379.34" y2="324.30" stroke="#55a032" stroke-width="1.0" stroke-linecap="butt"/>
<line x1="377.04" y1="324.30" x2="381.64" y2="324.30" stroke="#55a032" stroke-width="1.0" stroke-linecap="butt"/>
</g>
<g opacity="0.75">
<line x1="385.11" y1="341.10" x2="385.11" y2="331.10" stroke="#55a032" stroke-width="1.0" stroke-linecap="butt"/>
<line x1="382.81" y1="331.10" x2="387.41" y2="331.10" stroke="#55a032" stroke-width="1.0" stroke-linecap="butt"/>
</g>
<g opacity="0.75">
<line x1="390.88" y1="344.80" x2="390.88" y2="340.50" stroke="#55a032" stroke-width="1.0" stroke-linecap="butt"/>
<line x1="388.57" y1="340.50" x2="393.18" y2="340.50" stroke="#55a032" stroke-width="1.0" stroke-linecap="butt"/>
</g>
<g opacity="0.75">
<line x1="396.64" y1="351.10" x2="396.64" y2="348.60" stroke="#55a032" stroke-width="1.0" stroke-linecap="butt"/>
<line x1="394.34" y1="348.60" x2="398.94" y2="348.60" stroke="#55a032" stroke-width="1.0" stroke-linecap="butt"/>
</g>
<g opacity="0.75">
<line x1="402.40" y1="350.40" x2="402.40" y2="348.60" stroke="#55a032" stroke-width="1.0" stroke-linecap="butt"/>
<line x1="400.10" y1="348.60" x2="404.70" y2="348.60" stroke="#55a032" stroke-width="1.0" stroke-linecap="butt"/>
</g>
<g opacity="0.75">
<line x1="408.17" y1="351.50" x2="408.17" y2="348.80" stroke="#55a032" stroke-width="1.0" stroke-linecap="butt"/>
<line x1="405.87" y1="348.80" x2="410.47" y2="348.80" stroke="#55a032" stroke-width="1.0" stroke-linecap="butt"/>
</g>
<g opacity="0.75">
<line x1="413.93" y1="354.40" x2="413.93" y2="353.70" stroke="#55a032" stroke-width="1.0" stroke-linecap="butt"/>
<line x1="411.63" y1="353.70" x2="416.23" y2="353.70" stroke="#55a032" stroke-width="1.0" stroke-linecap="butt"/>
</g>
<g opacity="0.75">
<line x1="419.70" y1="357.90" x2="419.70" y2="357.00" stroke="#55a032" stroke-width="1.0" stroke-linecap="butt"/>
<line x1="417.40" y1="357.00" x2="422.00" y2="357.00" stroke="#55a032" stroke-width="1.0" stroke-linecap="butt"/>
</g>
<g opacity="0.75">
<line x1="431.23" y1="358.60" x2="431.23" y2="355.80" stroke="#55a032" stroke-width="1.0" stroke-linecap="butt"/>
<line x1="428.93" y1="355.80" x2="433.53" y2="355.80" stroke="#55a032" stroke-width="1.0" stroke-linecap="butt"/>
</g>
<g opacity="0.75">
<line x1="437.00" y1="359.00" x2="437.00" y2="357.20" stroke="#55a032" stroke-width="1.0" stroke-linecap="butt"/>
<line x1="434.69" y1="357.20" x2="439.30" y2="357.20" stroke="#55a032" stroke-width="1.0" stroke-linecap="butt"/>
</g>
<polyline points="304.40,298.70 310.16,265.70 315.93,289.50 321.69,313.40 327.46,323.50 333.22,346.00 338.99,341.10 344.75,344.60 350.52,346.30 356.28,341.10 362.05,339.90 367.81,340.50 373.58,334.20 379.34,338.60 385.11,341.10 390.88,344.80 396.64,351.10 402.40,350.40 408.17,351.50 413.93,354.40 419.70,357.90 425.46,359.30 431.23,358.60 437.00,359.00 442.76,359.30 448.52,360.20 454.29,360.30 460.05,360.30 465.82,360.30 471.58,360.30" fill="none" stroke="#55a032" stroke-width="1.5" stroke-linejoin="round"/>
<g opacity="0.75">
<line x1="310.16" y1="359.40" x2="310.16" y2="358.30" stroke="#a3002b" stroke-width="1.0" stroke-linecap="butt"/>
<line x1="307.86" y1="358.30" x2="312.46" y2="358.30" stroke="#a3002b" stroke-width="1.0" stroke-linecap="butt"/>
</g>
<g opacity="0.75">
<line x1="321.69" y1="358.80" x2="321.69" y2="357.90" stroke="#a3002b" stroke-width="1.0" stroke-linecap="butt"/>
<line x1="319.39" y1="357.90" x2="324.00" y2="357.90" stroke="#a3002b" stroke-width="1.0" stroke-linecap="butt"/>
</g>
<g opacity="0.75">
<line x1="338.99" y1="358.60" x2="338.99" y2="357.00" stroke="#a3002b" stroke-width="1.0" stroke-linecap="butt"/>
<line x1="336.69" y1="357.00" x2="341.29" y2="357.00" stroke="#a3002b" stroke-width="1.0" stroke-linecap="butt"/>
</g>
<g opacity="0.75">
<line x1="344.75" y1="357.70" x2="344.75" y2="355.40" stroke="#a3002b" stroke-width="1.0" stroke-linecap="butt"/>
<line x1="342.45" y1="355.40" x2="347.06" y2="355.40" stroke="#a3002b" stroke-width="1.0" stroke-linecap="butt"/>
</g>
<g opacity="0.75">
<line x1="356.28" y1="357.30" x2="356.28" y2="355.70" stroke="#a3002b" stroke-width="1.0" stroke-linecap="butt"/>
<line x1="353.98" y1="355.70" x2="358.58" y2="355.70" stroke="#a3002b" stroke-width="1.0" stroke-linecap="butt"/>
</g>
<g opacity="0.75">
<line x1="362.05" y1="357.00" x2="362.05" y2="354.80" stroke="#a3002b" stroke-width="1.0" stroke-linecap="butt"/>
<line x1="359.75" y1="354.80" x2="364.35" y2="354.80" stroke="#a3002b" stroke-width="1.0" stroke-linecap="butt"/>
</g>
<g opacity="0.75">
<line x1="367.81" y1="354.80" x2="367.81" y2="351.40" stroke="#a3002b" stroke-width="1.0" stroke-linecap="butt"/>
<line x1="365.51" y1="351.40" x2="370.12" y2="351.40" stroke="#a3002b" stroke-width="1.0" stroke-linecap="butt"/>
</g>
<g opacity="0.75">
<line x1="373.58" y1="352.30" x2="373.58" y2="348.30" stroke="#a3002b" stroke-width="1.0" stroke-linecap="butt"/>
<line x1="371.28" y1="348.30" x2="375.88" y2="348.30" stroke="#a3002b" stroke-width="1.0" stroke-linecap="butt"/>
</g>
<g opacity="0.75">
<line x1="379.34" y1="350.40" x2="379.34" y2="347.00" stroke="#a3002b" stroke-width="1.0" stroke-linecap="butt"/>
<line x1="377.04" y1="347.00" x2="381.64" y2="347.00" stroke="#a3002b" stroke-width="1.0" stroke-linecap="butt"/>
</g>
<g opacity="0.75">
<line x1="385.11" y1="347.30" x2="385.11" y2="344.20" stroke="#a3002b" stroke-width="1.0" stroke-linecap="butt"/>
<line x1="382.81" y1="344.20" x2="387.41" y2="344.20" stroke="#a3002b" stroke-width="1.0" stroke-linecap="butt"/>
</g>
<g opacity="0.75">
<line x1="390.88" y1="336.10" x2="390.88" y2="334.90" stroke="#a3002b" stroke-width="1.0" stroke-linecap="butt"/>
<line x1="388.57" y1="334.90" x2="393.18" y2="334.90" stroke="#a3002b" stroke-width="1.0" stroke-linecap="butt"/>
</g>
<g opacity="0.75">
<line x1="396.64" y1="333.60" x2="396.64" y2="324.30" stroke="#a3002b" stroke-width="1.0" stroke-linecap="butt"/>
<line x1="394.34" y1="324.30" x2="398.94" y2="324.30" stroke="#a3002b" stroke-width="1.0" stroke-linecap="butt"/>
</g>
<g opacity="0.75">
<line x1="402.40" y1="317.40" x2="402.40" y2="311.20" stroke="#a3002b" stroke-width="1.0" stroke-linecap="butt"/>
<line x1="400.10" y1="311.20" x2="404.70" y2="311.20" stroke="#a3002b" stroke-width="1.0" stroke-linecap="butt"/>
</g>
<g opacity="0.75">
<line x1="408.17" y1="304.30" x2="408.17" y2="297.40" stroke="#a3002b" stroke-width="1.0" stroke-linecap="butt"/>
<line x1="405.87" y1="297.40" x2="410.47" y2="297.40" stroke="#a3002b" stroke-width="1.0" stroke-linecap="butt"/>
</g>
<g opacity="0.75">
<line x1="413.93" y1="302.10" x2="413.93" y2="297.90" stroke="#a3002b" stroke-width="1.0" stroke-linecap="butt"/>
<line x1="411.63" y1="297.90" x2="416.23" y2="297.90" stroke="#a3002b" stroke-width="1.0" stroke-linecap="butt"/>
</g>
<g opacity="0.75">
<line x1="419.70" y1="295.80" x2="419.70" y2="280.90" stroke="#a3002b" stroke-width="1.0" stroke-linecap="butt"/>
<line x1="417.40" y1="280.90" x2="422.00" y2="280.90" stroke="#a3002b" stroke-width="1.0" stroke-linecap="butt"/>
</g>
<g opacity="0.75">
<line x1="425.46" y1="292.30" x2="425.46" y2="289.50" stroke="#a3002b" stroke-width="1.0" stroke-linecap="butt"/>
<line x1="423.16" y1="289.50" x2="427.76" y2="289.50" stroke="#a3002b" stroke-width="1.0" stroke-linecap="butt"/>
</g>
<g opacity="0.75">
<line x1="431.23" y1="314.60" x2="431.23" y2="311.80" stroke="#a3002b" stroke-width="1.0" stroke-linecap="butt"/>
<line x1="428.93" y1="311.80" x2="433.53" y2="311.80" stroke="#a3002b" stroke-width="1.0" stroke-linecap="butt"/>
</g>
<g opacity="0.75">
<line x1="437.00" y1="320.20" x2="437.00" y2="314.40" stroke="#a3002b" stroke-width="1.0" stroke-linecap="butt"/>
<line x1="434.69" y1="314.40" x2="439.30" y2="314.40" stroke="#a3002b" stroke-width="1.0" stroke-linecap="butt"/>
</g>
<g opacity="0.75">
<line x1="442.76" y1="328.50" x2="442.76" y2="323.70" stroke="#a3002b" stroke-width="1.0" stroke-linecap="butt"/>
<line x1="440.46" y1="323.70" x2="445.06" y2="323.70" stroke="#a3002b" stroke-width="1.0" stroke-linecap="butt"/>
</g>
<g opacity="0.75">
<line x1="448.52" y1="342.80" x2="448.52" y2="338.60" stroke="#a3002b" stroke-width="1.0" stroke-linecap="butt"/>
<line x1="446.22" y1="338.60" x2="450.82" y2="338.60" stroke="#a3002b" stroke-width="1.0" stroke-linecap="butt"/>
</g>
<g opacity="0.75">
<line x1="454.29" y1="346.50" x2="454.29" y2="339.90" stroke="#a3002b" stroke-width="1.0" stroke-linecap="butt"/>
<line x1="451.99" y1="339.90" x2="456.59" y2="339.90" stroke="#a3002b" stroke-width="1.0" stroke-linecap="butt"/>
</g>
<g opacity="0.75">
<line x1="460.05" y1="349.80" x2="460.05" y2="347.80" stroke="#a3002b" stroke-width="1.0" stroke-linecap="butt"/>
<line x1="457.75" y1="347.80" x2="462.35" y2="347.80" stroke="#a3002b" stroke-width="1.0" stroke-linecap="butt"/>
</g>
<g opacity="0.75">
<line x1="465.82" y1="353.90" x2="465.82" y2="352.40" stroke="#a3002b" stroke-width="1.0" stroke-linecap="butt"/>
<line x1="463.52" y1="352.40" x2="468.12" y2="352.40" stroke="#a3002b" stroke-width="1.0" stroke-linecap="butt"/>
</g>
<g opacity="0.75">
<line x1="471.58" y1="356.30" x2="471.58" y2="354.70" stroke="#a3002b" stroke-width="1.0" stroke-linecap="butt"/>
<line x1="469.28" y1="354.70" x2="473.88" y2="354.70" stroke="#a3002b" stroke-width="1.0" stroke-linecap="butt"/>
</g>
<polyline points="304.40,360.60 310.16,359.40 315.93,359.20 321.69,358.80 327.46,359.50 333.22,360.00 338.99,358.60 344.75,357.70 350.52,358.00 356.28,357.30 362.05,357.00 367.81,354.80 373.58,352.30 379.34,350.40 385.11,347.30 390.88,336.10 396.64,333.60 402.40,317.40 408.17,304.30 413.93,302.10 419.70,295.80 425.46,292.30 431.23,314.60 437.00,320.20 442.76,328.50 448.52,342.80 454.29,346.50 460.05,349.80 465.82,353.90 471.58,356.30" fill="none" stroke="#a3002b" stroke-width="1.5" stroke-linejoin="round"/>
<line x1="300.65" y1="360.75" x2="512.00" y2="360.75" stroke="#1a1a1a" stroke-width="1.3" stroke-linecap="butt"/>
<text x="7.50" y="455.75" font-size="12" text-anchor="start" fill="#000" color="#000" font-weight="bold" style="stroke-width:0.45px">E</text>
<line x1="52.40" y1="472.50" x2="52.40" y2="613.00" stroke="#1a1a1a" stroke-width="1.3" stroke-linecap="butt"/>
<line x1="51.80" y1="612.40" x2="202.40" y2="612.40" stroke="#1a1a1a" stroke-width="1.3" stroke-linecap="butt"/>
<line x1="48.40" y1="475.30" x2="52.40" y2="475.30" stroke="#1a1a1a" stroke-width="1.1" stroke-linecap="butt"/>
<text x="45.60" y="478.32" font-size="8.4" text-anchor="end" fill="#1a1a1a" color="#1a1a1a" font-weight="normal">1.2</text>
<line x1="48.40" y1="514.50" x2="52.40" y2="514.50" stroke="#1a1a1a" stroke-width="1.1" stroke-linecap="butt"/>
<text x="45.60" y="517.52" font-size="8.4" text-anchor="end" fill="#1a1a1a" color="#1a1a1a" font-weight="normal">1.0</text>
<line x1="48.40" y1="553.70" x2="52.40" y2="553.70" stroke="#1a1a1a" stroke-width="1.1" stroke-linecap="butt"/>
<text x="45.60" y="556.72" font-size="8.4" text-anchor="end" fill="#1a1a1a" color="#1a1a1a" font-weight="normal">0.8</text>
<line x1="48.40" y1="592.90" x2="52.40" y2="592.90" stroke="#1a1a1a" stroke-width="1.1" stroke-linecap="butt"/>
<text x="45.60" y="595.92" font-size="8.4" text-anchor="end" fill="#1a1a1a" color="#1a1a1a" font-weight="normal">0.6</text>
<text x="28.20" y="542.50" font-size="9.8" text-anchor="middle" fill="#1a1a1a" color="#1a1a1a" font-weight="normal" textLength="85.5" lengthAdjust="spacingAndGlyphs" transform="rotate(-90 28.20 542.50)" style="stroke-width:0.55px">α-2,3 SIA MA MFI <tspan font-size="8.4" style="stroke-width:0.3px">(norm.)</tspan></text>
<rect x="66.00" y="514.80" width="17.00" height="97.60" fill="#a3002b"/>
<line x1="100.80" y1="553.80" x2="100.80" y2="546.50" stroke="#a3002b" stroke-width="1.2" stroke-linecap="butt"/>
<line x1="96.30" y1="546.50" x2="105.30" y2="546.50" stroke="#a3002b" stroke-width="1.2" stroke-linecap="butt"/>
<rect x="92.30" y="553.80" width="17.00" height="58.60" fill="#a3002b"/>
<line x1="127.10" y1="587.80" x2="127.10" y2="581.30" stroke="#a3002b" stroke-width="1.2" stroke-linecap="butt"/>
<line x1="122.60" y1="581.30" x2="131.60" y2="581.30" stroke="#a3002b" stroke-width="1.2" stroke-linecap="butt"/>
<rect x="118.40" y="587.80" width="17.40" height="24.60" fill="#a3002b"/>
<line x1="153.30" y1="538.50" x2="153.30" y2="533.10" stroke="#a3002b" stroke-width="1.2" stroke-linecap="butt"/>
<line x1="148.80" y1="533.10" x2="157.80" y2="533.10" stroke="#a3002b" stroke-width="1.2" stroke-linecap="butt"/>
<rect x="144.60" y="538.50" width="17.40" height="73.90" fill="#a3002b"/>
<line x1="179.95" y1="539.80" x2="179.95" y2="528.20" stroke="#a3002b" stroke-width="1.2" stroke-linecap="butt"/>
<line x1="175.45" y1="528.20" x2="184.45" y2="528.20" stroke="#a3002b" stroke-width="1.2" stroke-linecap="butt"/>
<rect x="171.20" y="539.80" width="17.50" height="72.60" fill="#a3002b"/>
<line x1="74.50" y1="612.40" x2="74.50" y2="615.50" stroke="#1a1a1a" stroke-width="1.1" stroke-linecap="butt"/>
<line x1="100.80" y1="612.40" x2="100.80" y2="615.50" stroke="#1a1a1a" stroke-width="1.1" stroke-linecap="butt"/>
<line x1="127.10" y1="612.40" x2="127.10" y2="615.50" stroke="#1a1a1a" stroke-width="1.1" stroke-linecap="butt"/>
<line x1="153.30" y1="612.40" x2="153.30" y2="615.50" stroke="#1a1a1a" stroke-width="1.1" stroke-linecap="butt"/>
<line x1="179.95" y1="612.40" x2="179.95" y2="615.50" stroke="#1a1a1a" stroke-width="1.1" stroke-linecap="butt"/>
<line x1="75.60" y1="465.40" x2="180.40" y2="465.40" stroke="#444" stroke-width="1.25" stroke-linecap="butt"/>
<line x1="75.60" y1="462.40" x2="75.60" y2="468.40" stroke="#444" stroke-width="1.1" stroke-linecap="butt"/>
<line x1="180.40" y1="462.40" x2="180.40" y2="468.40" stroke="#444" stroke-width="1.1" stroke-linecap="butt"/>
<circle cx="127.70" cy="461.20" r="1.05" fill="#111"/>
<line x1="75.60" y1="478.80" x2="154.20" y2="478.80" stroke="#444" stroke-width="1.25" stroke-linecap="butt"/>
<line x1="75.60" y1="475.80" x2="75.60" y2="481.80" stroke="#444" stroke-width="1.1" stroke-linecap="butt"/>
<line x1="154.20" y1="475.80" x2="154.20" y2="481.80" stroke="#444" stroke-width="1.1" stroke-linecap="butt"/>
<circle cx="113.20" cy="474.60" r="1.05" fill="#111"/>
<circle cx="116.30" cy="474.60" r="1.05" fill="#111"/>
<line x1="75.60" y1="491.30" x2="125.20" y2="491.30" stroke="#444" stroke-width="1.25" stroke-linecap="butt"/>
<line x1="75.60" y1="488.30" x2="75.60" y2="494.30" stroke="#444" stroke-width="1.1" stroke-linecap="butt"/>
<line x1="125.20" y1="488.30" x2="125.20" y2="494.30" stroke="#444" stroke-width="1.1" stroke-linecap="butt"/>
<circle cx="97.50" cy="487.30" r="1.05" fill="#111"/>
<circle cx="100.60" cy="487.30" r="1.05" fill="#111"/>
<circle cx="103.70" cy="487.30" r="1.05" fill="#111"/>
<line x1="75.60" y1="502.80" x2="100.90" y2="502.80" stroke="#444" stroke-width="1.25" stroke-linecap="butt"/>
<line x1="75.60" y1="499.80" x2="75.60" y2="505.80" stroke="#444" stroke-width="1.1" stroke-linecap="butt"/>
<line x1="100.90" y1="499.80" x2="100.90" y2="505.80" stroke="#444" stroke-width="1.1" stroke-linecap="butt"/>
<circle cx="85.20" cy="498.20" r="1.05" fill="#111"/>
<circle cx="88.30" cy="498.20" r="1.05" fill="#111"/>
<circle cx="91.40" cy="498.20" r="1.05" fill="#111"/>
<text x="77.50" y="623.20" font-size="8.4" text-anchor="end" fill="#1a1a1a" color="#1a1a1a" font-weight="normal" transform="rotate(-45 77.50 623.20)">Control</text>
<text x="102.50" y="623.20" font-size="8.4" text-anchor="end" fill="#1a1a1a" color="#1a1a1a" font-weight="normal" transform="rotate(-45 102.50 623.20)">Propranolol</text>
<text x="129.70" y="623.20" font-size="8.4" text-anchor="end" fill="#1a1a1a" color="#1a1a1a" font-weight="normal" transform="rotate(-45 129.70 623.20)">Old RBC</text>
<text x="155.80" y="623.20" font-size="8.4" text-anchor="end" fill="#1a1a1a" color="#1a1a1a" font-weight="normal" transform="rotate(-45 155.80 623.20)">Stored RBC</text>
<text x="183.00" y="623.20" font-size="8.4" text-anchor="end" fill="#1a1a1a" color="#1a1a1a" font-weight="normal" transform="rotate(-45 183.00 623.20)">Valinomycin</text>
<text x="263.00" y="455.75" font-size="12" text-anchor="start" fill="#000" color="#000" font-weight="bold" style="stroke-width:0.45px">F</text>
<rect x="301.25" y="473.25" width="90.00" height="139.25" fill="#9a80a3"/>
<rect x="391.25" y="473.25" width="89.25" height="139.25" fill="#f0c98f"/>
<line x1="301.25" y1="471.25" x2="301.25" y2="613.10" stroke="#1a1a1a" stroke-width="1.3" stroke-linecap="butt"/>
<line x1="300.65" y1="612.50" x2="480.40" y2="612.50" stroke="#1a1a1a" stroke-width="1.3" stroke-linecap="butt"/>
<line x1="297.50" y1="473.25" x2="301.25" y2="473.25" stroke="#1a1a1a" stroke-width="1.1" stroke-linecap="butt"/>
<text x="295.20" y="476.27" font-size="8.4" text-anchor="end" fill="#1a1a1a" color="#1a1a1a" font-weight="normal">10</text>
<line x1="297.50" y1="542.88" x2="301.25" y2="542.88" stroke="#1a1a1a" stroke-width="1.1" stroke-linecap="butt"/>
<text x="295.20" y="545.90" font-size="8.4" text-anchor="end" fill="#1a1a1a" color="#1a1a1a" font-weight="normal">5</text>
<line x1="297.50" y1="612.50" x2="301.25" y2="612.50" stroke="#1a1a1a" stroke-width="1.1" stroke-linecap="butt"/>
<text x="295.20" y="615.52" font-size="8.4" text-anchor="end" fill="#1a1a1a" color="#1a1a1a" font-weight="normal">0</text>
<text x="278.90" y="542.00" font-size="9.8" text-anchor="middle" fill="#1a1a1a" color="#1a1a1a" font-weight="normal" textLength="128.75" lengthAdjust="spacingAndGlyphs" transform="rotate(-90 278.90 542.00)" style="stroke-width:0.55px">Adhesion/rolling frequency (fold change)</text>
<rect x="308.75" y="599.25" width="13.75" height="13.25" fill="#a3002b"/>
<line x1="336.88" y1="545.00" x2="336.88" y2="535.50" stroke="#a3002b" stroke-width="1.2" stroke-linecap="butt"/>
<line x1="332.77" y1="535.50" x2="340.98" y2="535.50" stroke="#a3002b" stroke-width="1.2" stroke-linecap="butt"/>
<rect x="330.00" y="545.00" width="13.75" height="67.50" fill="#a3002b"/>
<line x1="358.38" y1="595.00" x2="358.38" y2="588.25" stroke="#a3002b" stroke-width="1.2" stroke-linecap="butt"/>
<line x1="354.27" y1="588.25" x2="362.48" y2="588.25" stroke="#a3002b" stroke-width="1.2" stroke-linecap="butt"/>
<rect x="351.25" y="595.00" width="14.25" height="17.50" fill="#a3002b"/>
<line x1="379.75" y1="611.50" x2="379.75" y2="610.00" stroke="#a3002b" stroke-width="1.2" stroke-linecap="butt"/>
<line x1="375.65" y1="610.00" x2="383.85" y2="610.00" stroke="#a3002b" stroke-width="1.2" stroke-linecap="butt"/>
<rect x="372.50" y="611.50" width="14.50" height="1.00" fill="#a3002b"/>
<rect x="394.25" y="599.25" width="13.75" height="13.25" fill="#2e4c7f"/>
<line x1="422.62" y1="549.50" x2="422.62" y2="532.50" stroke="#2e4c7f" stroke-width="1.2" stroke-linecap="butt"/>
<line x1="418.52" y1="532.50" x2="426.73" y2="532.50" stroke="#2e4c7f" stroke-width="1.2" stroke-linecap="butt"/>
<rect x="415.75" y="549.50" width="13.75" height="63.00" fill="#2e4c7f"/>
<line x1="443.88" y1="597.00" x2="443.88" y2="594.25" stroke="#2e4c7f" stroke-width="1.2" stroke-linecap="butt"/>
<line x1="439.77" y1="594.25" x2="447.98" y2="594.25" stroke="#2e4c7f" stroke-width="1.2" stroke-linecap="butt"/>
<rect x="437.00" y="597.00" width="13.75" height="15.50" fill="#2e4c7f"/>
<line x1="465.12" y1="597.00" x2="465.12" y2="594.25" stroke="#2e4c7f" stroke-width="1.2" stroke-linecap="butt"/>
<line x1="461.02" y1="594.25" x2="469.23" y2="594.25" stroke="#2e4c7f" stroke-width="1.2" stroke-linecap="butt"/>
<rect x="458.25" y="597.00" width="13.75" height="15.50" fill="#2e4c7f"/>
<line x1="315.62" y1="612.50" x2="315.62" y2="616.20" stroke="#1a1a1a" stroke-width="1.1" stroke-linecap="butt"/>
<line x1="336.88" y1="612.50" x2="336.88" y2="616.20" stroke="#1a1a1a" stroke-width="1.1" stroke-linecap="butt"/>
<line x1="358.38" y1="612.50" x2="358.38" y2="616.20" stroke="#1a1a1a" stroke-width="1.1" stroke-linecap="butt"/>
<line x1="379.75" y1="612.50" x2="379.75" y2="616.20" stroke="#1a1a1a" stroke-width="1.1" stroke-linecap="butt"/>
<line x1="401.12" y1="612.50" x2="401.12" y2="616.20" stroke="#1a1a1a" stroke-width="1.1" stroke-linecap="butt"/>
<line x1="422.62" y1="612.50" x2="422.62" y2="616.20" stroke="#1a1a1a" stroke-width="1.1" stroke-linecap="butt"/>
<line x1="443.88" y1="612.50" x2="443.88" y2="616.20" stroke="#1a1a1a" stroke-width="1.1" stroke-linecap="butt"/>
<line x1="465.12" y1="612.50" x2="465.12" y2="616.20" stroke="#1a1a1a" stroke-width="1.1" stroke-linecap="butt"/>
<text x="351.60" y="487.92" font-size="8.1" text-anchor="middle" fill="#1a1a1a" color="#1a1a1a" font-weight="normal" textLength="37.5" lengthAdjust="spacingAndGlyphs" style="stroke-width:0.14px">Laminin-α5</text>
<text x="435.75" y="487.92" font-size="8.1" text-anchor="middle" fill="#1a1a1a" color="#1a1a1a" font-weight="normal" textLength="52.5" lengthAdjust="spacingAndGlyphs" style="stroke-width:0.14px">Hyaluronic acid</text>
<line x1="339.20" y1="502.80" x2="376.00" y2="502.80" stroke="#222" stroke-width="1.35" stroke-linecap="butt"/>
<line x1="339.20" y1="499.40" x2="339.20" y2="506.20" stroke="#222" stroke-width="1.25" stroke-linecap="butt"/>
<line x1="376.00" y1="499.40" x2="376.00" y2="506.20" stroke="#222" stroke-width="1.25" stroke-linecap="butt"/>
<circle cx="353.15" cy="499.00" r="1.05" fill="#111"/>
<circle cx="356.25" cy="499.00" r="1.05" fill="#111"/>
<circle cx="359.35" cy="499.00" r="1.05" fill="#111"/>
<circle cx="362.45" cy="499.00" r="1.05" fill="#111"/>
<line x1="314.70" y1="519.90" x2="336.90" y2="519.90" stroke="#222" stroke-width="1.35" stroke-linecap="butt"/>
<line x1="314.70" y1="516.50" x2="314.70" y2="523.30" stroke="#222" stroke-width="1.25" stroke-linecap="butt"/>
<line x1="336.90" y1="516.50" x2="336.90" y2="523.30" stroke="#222" stroke-width="1.25" stroke-linecap="butt"/>
<line x1="338.90" y1="519.90" x2="358.70" y2="519.90" stroke="#222" stroke-width="1.35" stroke-linecap="butt"/>
<line x1="338.90" y1="516.50" x2="338.90" y2="523.30" stroke="#222" stroke-width="1.25" stroke-linecap="butt"/>
<line x1="358.70" y1="516.50" x2="358.70" y2="523.30" stroke="#222" stroke-width="1.25" stroke-linecap="butt"/>
<circle cx="325.90" cy="515.60" r="1.05" fill="#111"/>
<circle cx="348.40" cy="515.60" r="1.05" fill="#111"/>
<line x1="423.75" y1="503.00" x2="460.50" y2="503.00" stroke="#222" stroke-width="1.35" stroke-linecap="butt"/>
<line x1="423.75" y1="499.60" x2="423.75" y2="506.40" stroke="#222" stroke-width="1.25" stroke-linecap="butt"/>
<line x1="460.50" y1="499.60" x2="460.50" y2="506.40" stroke="#222" stroke-width="1.25" stroke-linecap="butt"/>
<circle cx="441.75" cy="498.80" r="1.05" fill="#111"/>
<line x1="398.75" y1="519.50" x2="421.25" y2="519.50" stroke="#222" stroke-width="1.35" stroke-linecap="butt"/>
<line x1="398.75" y1="516.10" x2="398.75" y2="522.90" stroke="#222" stroke-width="1.25" stroke-linecap="butt"/>
<line x1="421.25" y1="516.10" x2="421.25" y2="522.90" stroke="#222" stroke-width="1.25" stroke-linecap="butt"/>
<line x1="423.25" y1="519.50" x2="443.00" y2="519.50" stroke="#222" stroke-width="1.35" stroke-linecap="butt"/>
<line x1="423.25" y1="516.10" x2="423.25" y2="522.90" stroke="#222" stroke-width="1.25" stroke-linecap="butt"/>
<line x1="443.00" y1="516.10" x2="443.00" y2="522.90" stroke="#222" stroke-width="1.25" stroke-linecap="butt"/>
<circle cx="410.00" cy="515.00" r="1.05" fill="#111"/>
<circle cx="433.00" cy="515.00" r="1.05" fill="#111"/>
<text x="319.40" y="624.00" font-size="8.6" text-anchor="end" fill="#1a1a1a" color="#1a1a1a" font-weight="normal" transform="rotate(-45 319.40 624.00)">Control</text>
<text x="340.90" y="624.00" font-size="8.6" text-anchor="end" fill="#1a1a1a" color="#1a1a1a" font-weight="normal" transform="rotate(-45 340.90 624.00)">Prop.</text>
<text x="362.40" y="624.00" font-size="8.6" text-anchor="end" fill="#1a1a1a" color="#1a1a1a" font-weight="normal" transform="rotate(-45 362.40 624.00)">Prop. + TRAM34</text>
<text x="383.40" y="624.00" font-size="8.6" text-anchor="end" fill="#1a1a1a" color="#1a1a1a" font-weight="normal" transform="rotate(-45 383.40 624.00)">Prop + aLu/BCAM</text>
<text x="404.40" y="624.00" font-size="8.6" text-anchor="end" fill="#1a1a1a" color="#1a1a1a" font-weight="normal" transform="rotate(-45 404.40 624.00)">Control</text>
<text x="425.90" y="624.00" font-size="8.6" text-anchor="end" fill="#1a1a1a" color="#1a1a1a" font-weight="normal" transform="rotate(-45 425.90 624.00)">Prop.</text>
<text x="446.90" y="624.00" font-size="8.6" text-anchor="end" fill="#1a1a1a" color="#1a1a1a" font-weight="normal" transform="rotate(-45 446.90 624.00)">Prop. + TRAM34</text>
<text x="467.90" y="624.00" font-size="8.6" text-anchor="end" fill="#1a1a1a" color="#1a1a1a" font-weight="normal" transform="rotate(-45 467.90 624.00)">Prop + aCD44</text>
</svg>
</body></html>
